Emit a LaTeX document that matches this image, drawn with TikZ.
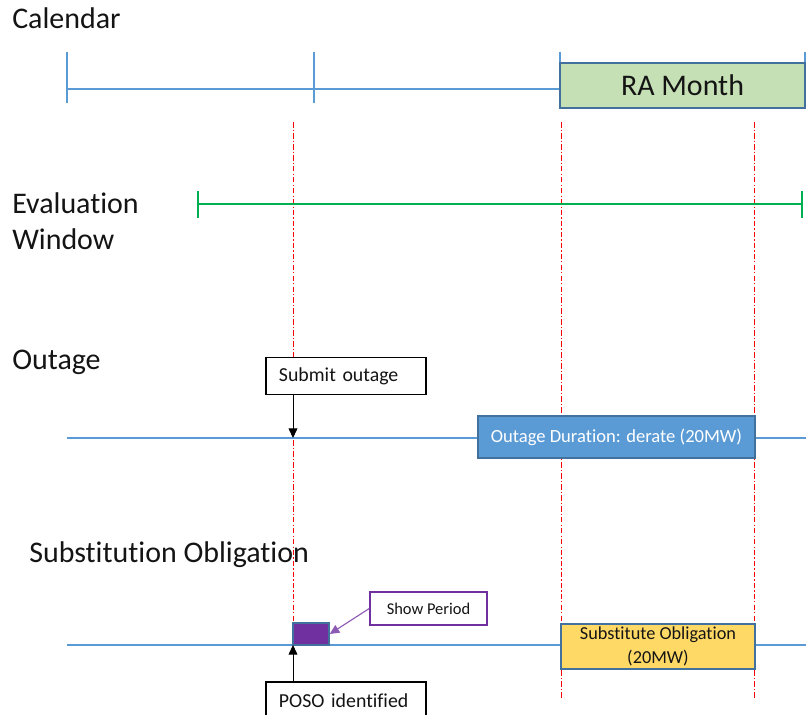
\documentclass[tikz,border=0pt]{standalone}
\usepackage{fontspec}
\setmainfont{Carlito}[Ligatures=NoCommon]
\usetikzlibrary{arrows.meta,positioning}
\definecolor{tlblue}{RGB}{91,155,213}
\definecolor{boxedge}{RGB}{65,113,156}
\definecolor{ragreen}{RGB}{197,224,180}
\definecolor{evgreen}{RGB}{0,176,80}
\definecolor{subyel}{RGB}{255,217,102}
\definecolor{showpur}{RGB}{112,48,160}
\definecolor{txtgray}{RGB}{20,20,20}
\tikzset{
  tl/.style={tlblue, line width=1pt},
  evl/.style={evgreen, line width=1.8pt},
  guide/.style={red, line width=0.7pt, dash pattern=on 4pt off 1.5pt on 0.8pt off 1.5pt},
  lbl/.style={inner sep=0pt, anchor=base west, text=txtgray, font=\fontsize{21.3}{25.6}\selectfont, align=left},
  rabox/.style={draw=boxedge, fill=ragreen, line width=1.3pt, minimum width=6.125cm,
              minimum height=1.125cm, font=\fontsize{21.3}{25.6}\selectfont, text=txtgray},
  durbox/.style={draw=boxedge, fill=tlblue, line width=1pt, minimum width=6.925cm,
              minimum height=1.05cm, font=\fontsize{13.2}{16}\selectfont, text=white},
  subbox/.style={draw=boxedge, fill=subyel, line width=1pt, minimum width=4.85cm,
              minimum height=1.125cm, inner sep=1pt, align=center,
              font=\fontsize{13}{17.5}\selectfont, text=txtgray},
  msgbox/.style={draw=black, fill=white, line width=1pt, inner xsep=0.325cm, text width=3.35cm,
              align=left, minimum height=0.925cm, font=\fontsize{14.1}{17}\selectfont, text=txtgray},
  pmsg/.style={draw=showpur, fill=white, line width=1pt, minimum width=2.925cm,
              minimum height=0.825cm, font=\fontsize{11.7}{14}\selectfont, text=txtgray},
  showbox/.style={draw=boxedge, fill=showpur, line width=1pt, minimum width=0.9cm, minimum height=0.55cm, inner sep=0pt},
  sarr/.style={-{Triangle[length=2.4mm, width=2.2mm]}, black, line width=0.6pt},
  parr/.style={-{Triangle[length=2.4mm, width=2.2mm]}, showpur!80, line width=0.8pt},
}
\begin{document}
\begin{tikzpicture}[x=0.025cm, y=-0.025cm]
  \useasboundingbox (0,0) rectangle (811,715);
  % row labels
  \node[lbl] (lcal) at (12,29) {Calendar};
  \node[lbl] (leval) at (12,250) {Evaluation\\Window};
  \node[lbl] (lout) at (12,370) {Outage};
  \node[lbl] (lsub) at (29,563) {Substitution Obligation};

  % guide lines
  \foreach \x/\y in {293/682, 561/700, 754/700}
    \draw[guide] (\x,122) -- (\x,\y);

  % calendar
  \draw[tl] (67,89) -- (560,89);
  \foreach \x in {67,314,560,805}
    \draw[tl] (\x,52) -- (\x,103);
  \node[rabox] (ra) at (682.5,85.5) {RA Month};

  % evaluation window
  \draw[evl] (198,204) -- (802,204);
  \foreach \x in {198,802}
    \draw[evl, line width=1pt] (\x,191) -- (\x,218);

  % outage
  \coordinate (hitout) at (293,438);
  \draw[tl] (67,438) -- (806,438);
  \node[durbox] (dur) at (616.5,437) {Outage Duration: derate (20MW)};
  \node[msgbox] (submit) at (346,376) {Submit outage};
  \draw[sarr] (submit.south -| hitout) -- (hitout);

  % substitution obligation
  \coordinate (hitsub) at (293,645);
  \draw[tl] (67,645) -- (806,645);
  \node[showbox] (showp) at (311,634) {};
  \node[pmsg] (showc) at (428.5,608.5) {Show Period};
  \draw[parr] (showc.west) -- (showp.east);
  \node[subbox] (subst) at (658,646.5) {Substitute Obligation\\(20MW)};
  \node[msgbox] (poso) at (346,700.5) {POSO identified};
  \draw[sarr] (poso.north -| hitsub) -- (hitsub);
\end{tikzpicture}
\end{document}
